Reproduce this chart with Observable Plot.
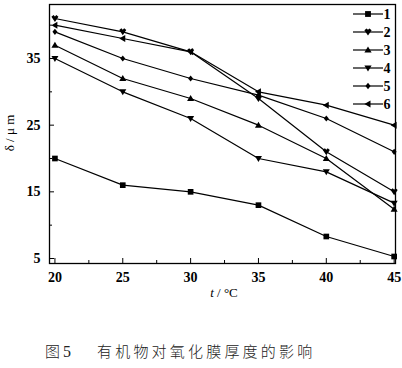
<!DOCTYPE html>
<html><head><meta charset="utf-8">
<script src="https://cdn.jsdelivr.net/npm/d3@7"></script>
<script src="https://cdn.jsdelivr.net/npm/@observablehq/plot@0.6"></script>
<style>
body{margin:0;background:#fff;width:402px;height:368px;position:relative;overflow:hidden}
#cap{position:absolute;left:45px;top:343px;font-family:"Noto Sans CJK SC";font-size:15px;font-weight:300;color:#222;white-space:pre;line-height:16px}
#cap .n{font-family:"Liberation Serif",serif;font-size:16px;margin-left:3px}
#cap .t{letter-spacing:3.2px;margin-left:26px}
</style></head>
<body><div id="chart"></div><div id="cap">图<span class="n">5</span><span class="t">有机物对氧化膜厚度的影响</span></div>
<script>
const temps = [20, 25, 30, 35, 40, 45];
const seriesNames = ["1", "2", "3", "4", "5", "6"];
const s1 = [20, 16, 15, 13, 8.3, 5.3];
const s2 = [41, 39, 36, 29, 21, 15];
const s3 = [37, 32, 29, 25, 20, 12.4];
const s4 = [35, 30, 26, 20, 18, 13.3];
const s5 = [39, 35, 32, 29.5, 26, 21];
const s6 = [40, 38, 36, 30, 28, 25];
const xMajor = [20, 25, 30, 35, 40, 45];
const xMinor = [22.5, 27.5, 32.5, 37.5, 42.5];
const yMajor = [5, 15, 25, 35];
const yMinor = [10, 20, 30, 40];

const allSeries = [s1, s2, s3, s4, s5, s6];
const triDown = {draw(c, size){const r = Math.sqrt(size) * 0.62; c.moveTo(-r, -r * 0.7); c.lineTo(r, -r * 0.7); c.lineTo(0, r); c.closePath();}};
const triUp = {draw(c, size){const r = Math.sqrt(size) * 0.62; c.moveTo(-r, r * 0.7); c.lineTo(r, r * 0.7); c.lineTo(0, -r); c.closePath();}};
const triLeft = {draw(c, size){const r = Math.sqrt(size) * 0.62; c.moveTo(r * 0.7, -r); c.lineTo(r * 0.7, r); c.lineTo(-r, 0); c.closePath();}};
const heart = {draw(c, size){const r = Math.sqrt(size) * 0.62; c.moveTo(-r, -r * 0.5); c.lineTo(-r*0.4, -r); c.lineTo(0,-r*0.6); c.lineTo(r*0.4,-r); c.lineTo(r, -r * 0.5); c.lineTo(0, r); c.closePath();}};
const diam = {draw(c, size){const r = Math.sqrt(size) * 0.55; c.moveTo(0, -r); c.lineTo(r * 0.8, 0); c.lineTo(0, r); c.lineTo(-r * 0.8, 0); c.closePath();}};
const symbols = ["square", heart, triUp, triDown, diam, triLeft];

const marks = [
  Plot.frame({stroke: "#000", strokeWidth: 1.3}),
  Plot.axisX({ticks: xMajor, tickSize: -5, tickPadding: 14, tickFormat: d => String(d), fontSize: 14, fontWeight: "bold", label: null}),
  Plot.axisX({ticks: xMinor, tickSize: -3, tickFormat: () => "", label: null}),
  Plot.axisY({ticks: yMajor, tickSize: -5, tickPadding: 14, tickFormat: d => String(d), fontSize: 14, fontWeight: "bold", label: null}),
  Plot.axisY({ticks: yMinor, tickSize: -3, tickFormat: () => "", label: null})
];
allSeries.forEach((s, i) => {
  const data = temps.map((t, j) => ({t, v: s[j]}));
  marks.push(Plot.line(data, {x: "t", y: "v", stroke: "#000", strokeWidth: 1.2}));
  marks.push(Plot.dot(data, {x: "t", y: "v", symbol: symbols[i], r: 3.2, fill: "#000", stroke: "none"}));
});

const chart = Plot.plot({
  width: 402, height: 310,
  marginLeft: 49, marginRight: 7, marginTop: 4, marginBottom: 47,
  style: {fontFamily: "'Liberation Serif', serif", color: "#000", background: "#fff"},
  x: {domain: [19.6, 45.1]},
  y: {domain: [4.25, 43.1]},
  marks
});
document.getElementById("chart").appendChild(chart);

const svg = d3.select(chart);
// axis titles
svg.append("text").attr("transform", "translate(14,133) rotate(-90)").attr("text-anchor", "middle")
  .attr("font-family", "'Liberation Serif', serif").attr("font-size", 13).text("δ / μ m");
const xt = svg.append("text").attr("x", 224).attr("y", 297).attr("text-anchor", "middle")
  .attr("font-family", "'Liberation Serif', serif").attr("font-size", 13);
xt.append("tspan").attr("font-style", "italic").text("t");
xt.append("tspan").text(" / °C");

// legend
const d3syms = [d3.symbolSquare, heart, triUp, triDown, diam, triLeft];
const lg = svg.append("g").attr("transform", "translate(353,14)");
seriesNames.forEach((n, i) => {
  const g = lg.append("g").attr("transform", `translate(0,${i * 18})`);
  g.append("line").attr("x1", 0).attr("x2", 30).attr("stroke", "#000").attr("stroke-width", 1.2);
  g.append("path").attr("transform", "translate(15,0)").attr("d", d3.symbol(d3syms[i], 34)()).attr("fill", "#000");
  g.append("text").attr("x", 34).attr("dy", "0.35em").attr("font-family", "'Liberation Serif', serif").attr("font-size", 14).attr("font-weight", "bold").text(n);
});
</script></body></html>
